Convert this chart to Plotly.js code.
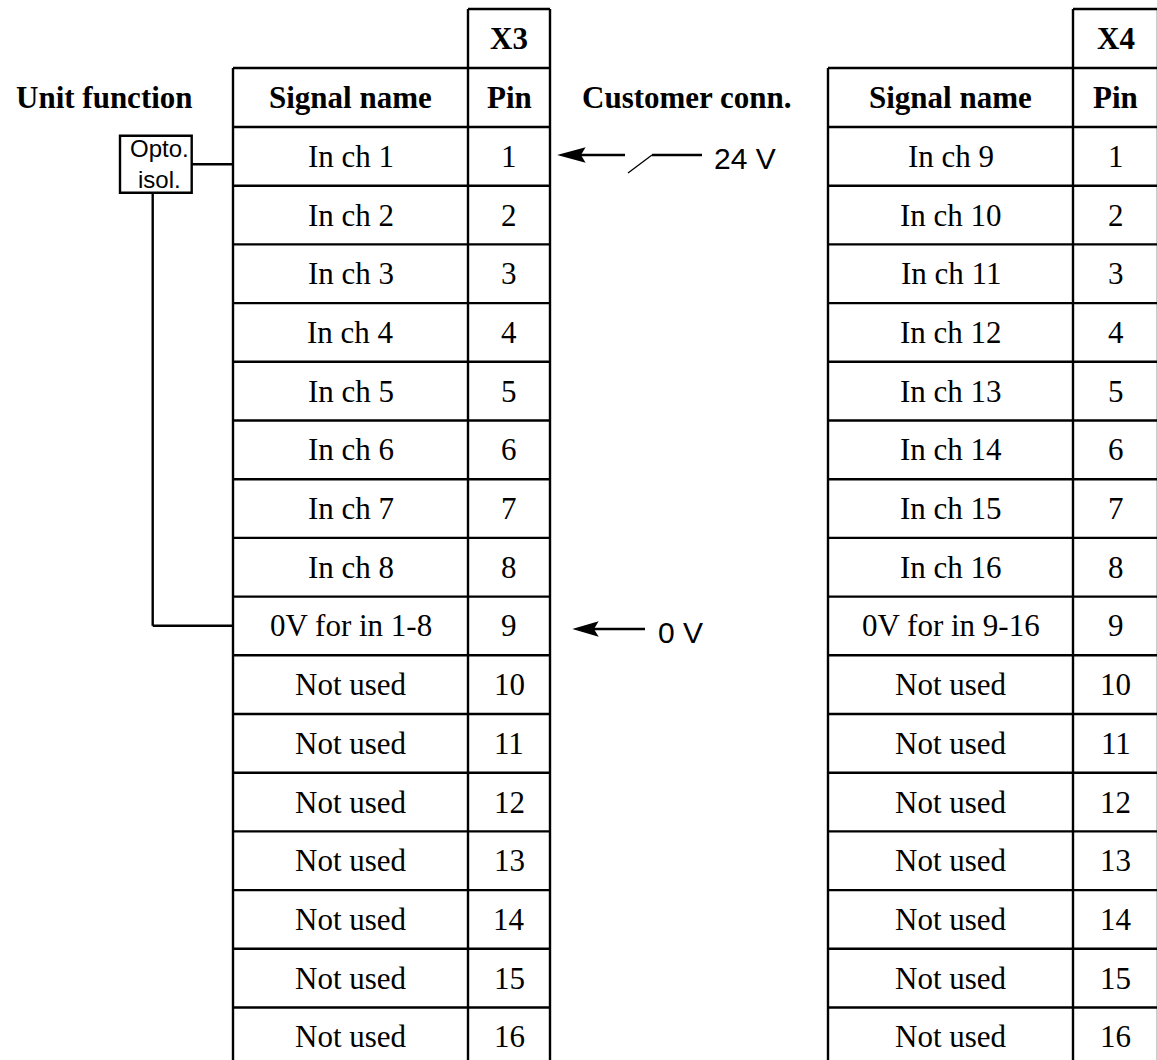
<!DOCTYPE html>
<html>
<head>
<meta charset="utf-8">
<script src="https://cdn.plot.ly/plotly-3.0.1.min.js"></script>
<style>html,body{margin:0;padding:0;background:#fff;}#chart{width:1157px;height:1060px;}</style>
</head>
<body>
<div id="chart"></div>
<script>
// ---- data ----
const connectorLeft = "X3";
const connectorRight = "X4";
const signalsX3 = ["In ch 1","In ch 2","In ch 3","In ch 4","In ch 5","In ch 6","In ch 7","In ch 8",
  "0V for in 1-8","Not used","Not used","Not used","Not used","Not used","Not used","Not used"];
const signalsX4 = ["In ch 9","In ch 10","In ch 11","In ch 12","In ch 13","In ch 14","In ch 15","In ch 16",
  "0V for in 9-16","Not used","Not used","Not used","Not used","Not used","Not used","Not used"];
const pinsX3 = ["1","2","3","4","5","6","7","8","9","10","11","12","13","14","15","16"];
const pinsX4 = ["1","2","3","4","5","6","7","8","9","10","11","12","13","14","15","16"];
const headers = {unit: "Unit function", signal: "Signal name", pin: "Pin", customer: "Customer conn."};
const optoLabel = "Opto.<br>isol.";
const voltLabels = ["24 V", "0 V"];

// ---- geometry ----
const W = 1157, H = 1060;
const topBox = 9, headTop = 68, rowTop = 127, rowH = 58.7;
const LW = 2.4;
const serif = "Liberation Serif, Times New Roman, serif";
const sans = "Liberation Sans, Arial, sans-serif";
const FS = 31;

const shapes = [];
const ann = [];
function line(x0,y0,x1,y1,w){ shapes.push({type:'line',xref:'x',yref:'y',x0:x0,y0:y0,x1:x1,y1:y1,line:{color:'#000',width:w||LW}}); }
function text(x,y,t,opts){ ann.push(Object.assign({x:x,y:y,xref:'x',yref:'y',text:t,showarrow:false,xanchor:'center',yanchor:'middle',
  font:{family:serif,size:FS,color:'#000'}},opts||{})); }

function table(xL, xP, xR, conn, sigs, pins){
  const n = sigs.length;
  const bottom = rowTop + n*rowH;
  line(xL, headTop, xL, bottom);
  line(xP, topBox, xP, bottom);
  line(xR, topBox, xR, bottom);
  line(xP, topBox, xR, topBox);
  line(xL, headTop, xR, headTop);
  for(let k=0;k<=n;k++){ line(xL, rowTop+k*rowH, xR, rowTop+k*rowH); }
  text((xP+xR)/2, 38, "<b>"+conn+"</b>");
  text((xL+xP)/2, 97.5, "<b>"+headers.signal+"</b>");
  text((xP+xR)/2, 97.5, "<b>"+headers.pin+"</b>");
  for(let k=0;k<n;k++){
    const yc = rowTop + (k+0.5)*rowH;
    text((xL+xP)/2, yc, sigs[k]);
    text((xP+xR)/2, yc, pins[k]);
  }
}
table(233, 468, 550, connectorLeft, signalsX3, pinsX3);
table(828, 1073, 1158, connectorRight, signalsX4, pinsX4);

text(104, 97.5, "<b>"+headers.unit+"</b>");
text(687, 97.5, "<b>"+headers.customer+"</b>");

// Opto isolator box and wiring
shapes.push({type:'rect',xref:'x',yref:'y',x0:120,y0:135.7,x1:191.7,y1:192.7,line:{color:'#000',width:LW},fillcolor:'rgba(0,0,0,0)'});
text(159, 164, optoLabel, {font:{family:sans,size:24,color:'#000'}});
line(191.7, 164.3, 233, 164.3);
line(152.7, 192.7, 152.7, 625.7);
line(152.7, 625.7, 233, 625.7);

// 24 V input with switch
line(578, 155, 625, 155);
shapes.push({type:'path',xref:'x',yref:'y',path:'M560,155 L584,148.5 L580,155 L584,161.5 Z',fillcolor:'#000',line:{color:'#000',width:1.5}});
line(628, 173, 652, 155, 1.3);
line(652, 155, 702, 155);
text(745, 158, voltLabels[0], {font:{family:sans,size:30,color:'#000'}});

// 0 V
line(592, 629, 645, 629);
shapes.push({type:'path',xref:'x',yref:'y',path:'M575,629 L597,622.5 L593,629 L597,635.5 Z',fillcolor:'#000',line:{color:'#000',width:1.5}});
text(680, 632, voltLabels[1], {font:{family:sans,size:30,color:'#000'}});

Plotly.newPlot('chart', [], {
  width: W, height: H,
  margin:{l:0,r:0,t:0,b:0},
  paper_bgcolor:'#fff', plot_bgcolor:'#fff',
  xaxis:{range:[0,W],visible:false,fixedrange:true},
  yaxis:{range:[H,0],visible:false,fixedrange:true},
  shapes: shapes,
  annotations: ann,
  showlegend:false
}, {staticPlot:true, displayModeBar:false});
</script>
</body>
</html>
